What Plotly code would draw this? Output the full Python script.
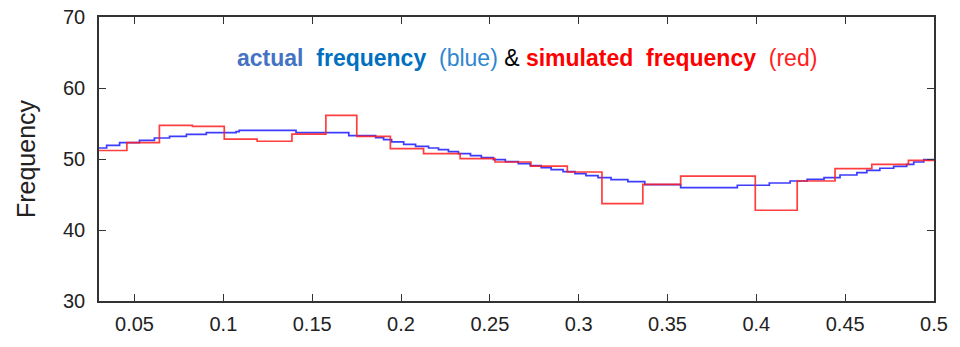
import plotly.graph_objects as go

# Blue: actual frequency (step starts, values)
blue_x = [0.030, 0.0343, 0.0416, 0.0528, 0.0612, 0.0697, 0.0792, 0.0904, 0.1072, 0.1089,
          0.1409, 0.1706, 0.1857, 0.1902, 0.1947, 0.2015, 0.2082, 0.2155, 0.2211, 0.2267,
          0.2323, 0.2391, 0.2452, 0.2520, 0.2587, 0.2660, 0.2727, 0.2789, 0.2845, 0.2912,
          0.2979, 0.3041, 0.3109, 0.3182, 0.3277, 0.3372, 0.3574, 0.3893, 0.4073, 0.4190,
          0.4286, 0.4381, 0.4471, 0.4566, 0.4622, 0.4695, 0.4773, 0.4846, 0.4886, 0.4942, 0.5]
blue_y = [51.55, 51.93, 52.31, 52.63, 52.96, 53.2, 53.48, 53.72, 53.86, 54.04,
          53.72, 53.3, 53.0, 52.73, 52.4, 52.07, 51.79, 51.55, 51.32, 51.04,
          50.76, 50.48, 50.2, 49.92, 49.63, 49.35, 49.07, 48.79, 48.51, 48.23,
          47.94, 47.66, 47.38, 47.1, 46.82, 46.4, 45.97, 46.3, 46.62, 46.9,
          47.14, 47.38, 47.75, 48.08, 48.4, 48.7, 48.97, 49.25, 49.58, 49.9, 49.9]

# Red: simulated frequency (step starts, values)
red_x = [0.030, 0.0457, 0.0640, 0.0826, 0.1005, 0.1190, 0.1386, 0.1577, 0.1751, 0.1940,
         0.2127, 0.2333, 0.2529, 0.2731, 0.2936, 0.3131, 0.3361, 0.3574, 0.3994, 0.4230,
         0.4443, 0.4650, 0.4856, 0.5]
red_y = [51.2, 52.3, 54.75, 54.6, 52.8, 52.5, 53.5, 56.15, 53.2, 51.46,
         50.76, 50.06, 49.58, 49.0, 48.17, 43.72, 46.44, 47.6, 42.78, 46.9,
         48.65, 49.25, 49.8, 49.8]

x_ticks = [0.05, 0.1, 0.15, 0.2, 0.25, 0.3, 0.35, 0.4, 0.45, 0.5]
x_tick_labels = ["0.05", "0.1", "0.15", "0.2", "0.25", "0.3", "0.35", "0.4", "0.45", "0.5"]
y_ticks = [30, 40, 50, 60, 70]

fig = go.Figure()
fig.add_trace(go.Scatter(x=blue_x, y=blue_y, mode="lines", line_shape="hv",
                         line=dict(color="rgb(40,40,255)", width=1.7), opacity=0.9))
fig.add_trace(go.Scatter(x=red_x, y=red_y, mode="lines", line_shape="hv",
                         line=dict(color="rgb(255,30,30)", width=1.7), opacity=0.85))

title_html = ("<b><span style='color:#4472C4'>actual</span>&nbsp;&nbsp;"
              "<span style='color:#0070C0'>frequency</span></b>&nbsp;&nbsp;"
              "<span style='color:#2E86D0'>(blue)</span> "
              "<span style='color:#000000'>&amp;</span> "
              "<b><span style='color:#FF0000'>simulated</span>&nbsp;&nbsp;"
              "<span style='color:#FF0000'>frequency</span></b>&nbsp;&nbsp;"
              "<span style='color:#FF2020'>(red)</span>")

fig.add_annotation(text=title_html, x=0.513, xref="paper", y=64.2, yref="y",
                   showarrow=False, xanchor="center", yanchor="middle",
                   font=dict(family="Liberation Sans, Arial, sans-serif", size=23))

axis_common = dict(showline=True, linecolor="#333333", linewidth=1.5, mirror="ticks",
                   ticks="inside", ticklen=7, tickwidth=1, tickcolor="#333333",
                   showgrid=False, zeroline=False, automargin=False,
                   tickfont=dict(family="Liberation Sans, Arial, sans-serif", size=20, color="#222222"))

fig.update_xaxes(range=[0.03, 0.5], tickvals=x_ticks, ticktext=x_tick_labels,
                 ticklabelstandoff=4, **axis_common)
fig.update_yaxes(range=[30, 70], tickvals=y_ticks, ticklabelstandoff=8,
                 title=dict(text="Frequency", standoff=20,
                            font=dict(family="Liberation Sans, Arial, sans-serif", size=25, color="#222222")),
                 **axis_common)

fig.update_layout(width=960, height=347, margin=dict(l=99, r=26, t=17, b=46),
                  plot_bgcolor="white", paper_bgcolor="white", showlegend=False)

fig.write_html("out.html")
